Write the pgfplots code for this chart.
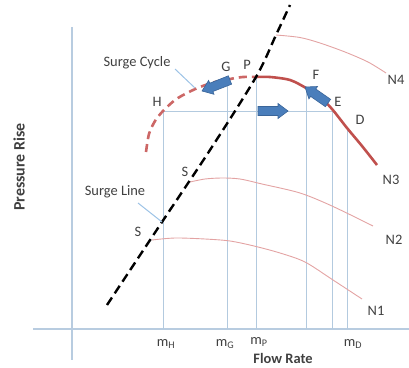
\documentclass[border=0pt]{standalone}
\usepackage{fontspec}
\setmainfont{Carlito}
\usepackage{pgfplots}
\pgfplotsset{compat=1.18}
\definecolor{axblue}{HTML}{B8CCE0}
\definecolor{gridblue}{HTML}{B3CADF}
\definecolor{nred}{HTML}{C0504D}
\definecolor{ndash}{HTML}{CC6766}
\definecolor{npink}{HTML}{E3A3A3}
\definecolor{arrblue}{HTML}{4A7EBB}
\definecolor{arredge}{HTML}{3A6599}
\definecolor{annblue}{HTML}{9DC3E6}
\definecolor{txt}{HTML}{404040}
\tikzset{lab/.style={text=txt,font=\fontsize{14.5}{17}\selectfont,inner sep=1pt},
  blab/.style={text=txt,font=\fontsize{14.5}{17}\selectfont\bfseries,inner sep=0pt}}
\begin{document}
\begin{tikzpicture}
\begin{axis}[width=409bp,height=368bp,scale only axis,
  xmin=0,xmax=409,ymin=0,ymax=368,y dir=reverse,
  hide axis,clip=false,
  every axis plot/.append style={mark=none}]
% axes
\addplot[axblue,line width=1.6bp] coordinates {(33,329) (409,329)};
\addplot[axblue,line width=1.6bp] coordinates {(72,27) (72,360)};
% guide lines
\addplot[gridblue,line width=1bp] coordinates {(163,112) (163,329)};
\addplot[gridblue,line width=1bp] coordinates {(227,82) (227,329)};
\addplot[gridblue,line width=1bp] coordinates {(256,77) (256,329)};
\addplot[gridblue,line width=1bp] coordinates {(306,88) (306,329)};
\addplot[gridblue,line width=1bp] coordinates {(332,110) (332,329)};
\addplot[gridblue,line width=1bp] coordinates {(347,129) (347,329)};
\addplot[gridblue,line width=1bp] coordinates {(163,111) (332,111)};
% speed lines
\addplot[npink,line width=0.9bp,smooth] coordinates {(276,35) (300,37.5) (320,43) (345,52) (368,62) (386,73)};
\addplot[npink,line width=0.9bp,smooth] coordinates {(190,182) (205,179) (222,178) (240,179) (262,184) (300,193) (332,206) (373,226)};
\addplot[npink,line width=0.9bp,smooth] coordinates {(152,240) (175,238) (205,239) (230,241) (254,246) (280,253) (305,262) (333,280) (362,299)};
% N3
\addplot[nred,line width=2.6bp,smooth] coordinates {(256,77) (270,77) (290,80) (306,88) (320,97) (332,109) (347,128) (362,146) (377,165)};
\addplot[ndash,line width=2.6bp,smooth,dash pattern=on 8bp off 5bp] coordinates {(146,152) (149,134) (155,121) (163,111) (175,100) (187,93) (200,87) (215,82) (230,79) (243,77) (256,77)};
% surge line
\addplot[black,line width=2.4bp,smooth,dash pattern=on 9bp off 5bp] coordinates {(107,305) (162,222) (210,150) (256,77) (276,35) (290,5)};
% annotation leaders
\addplot[annblue,line width=1bp] coordinates {(175,69) (195,88)};
\addplot[annblue,line width=1bp] coordinates {(138,203) (162,222)};
% block arrows
\addplot[fill=arrblue,draw=arredge,line width=0.6bp] coordinates {(258,106.5) (278,106.5) (278,103.5) (288,111) (278,118.5) (278,115.5) (258,115.5)} --cycle;
\addplot[fill=arrblue,draw=arredge,line width=0.6bp] coordinates {(330.6,99.3) (315.8,89.0) (317.5,86.5) (305,87) (308.9,98.9) (310.6,96.4) (325.4,106.7)} --cycle;
\addplot[fill=arrblue,draw=arredge,line width=0.6bp] coordinates {(228.4,75.8) (209.7,83.2) (208.6,80.4) (202,91) (214.0,94.3) (212.9,91.5) (231.6,84.2)} --cycle;
% labels
\node[lab] at (axis cs:137,63) {Surge Cycle};
\node[lab] at (axis cs:115,192) {Surge Line};
\node[lab] at (axis cs:157,102) {H};
\node[lab] at (axis cs:226,67) {G};
\node[lab] at (axis cs:247,65) {P};
\node[lab] at (axis cs:316,75) {F};
\node[lab] at (axis cs:338,102) {E};
\node[lab] at (axis cs:360,120) {D};
\node[lab] at (axis cs:185,172) {S};
\node[lab] at (axis cs:138,232) {S};
\node[lab] at (axis cs:396,80) {N4};
\node[lab] at (axis cs:391,180) {N3};
\node[lab] at (axis cs:394,240) {N2};
\node[lab] at (axis cs:376,311) {N1};
\node[lab] at (axis cs:166,344) {m\textsubscript{H}};
\node[lab] at (axis cs:225,344) {m\textsubscript{G}};
\node[lab] at (axis cs:259,342) {m\textsubscript{P}};
\node[lab] at (axis cs:353,344) {m\textsubscript{D}};
\node[blab] at (axis cs:283,358.5) {Flow Rate};
\node[blab,rotate=90,font=\fontsize{16}{18}\selectfont\bfseries] at (axis cs:19,167) {Pressure Rise};
\end{axis}
\pgfresetboundingbox
\path (current axis.south west) rectangle (current axis.north east);
\end{tikzpicture}
\end{document}
